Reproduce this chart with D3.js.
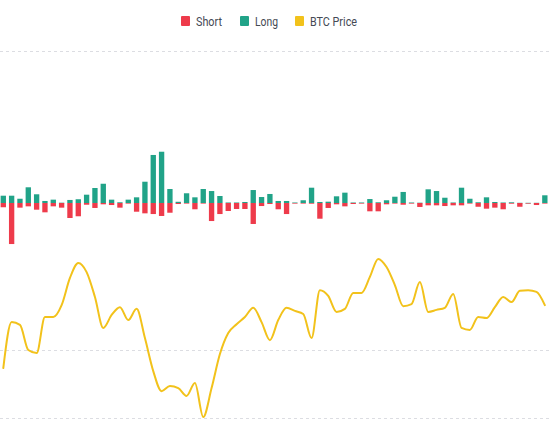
<!DOCTYPE html>
<html>
<head>
<meta charset="utf-8">
<script src="https://cdn.jsdelivr.net/npm/d3@7"></script>
<style>
  html, body { margin: 0; padding: 0; background: #ffffff; }
  svg { display: block; }
</style>
</head>
<body>
<svg id="chart" width="551" height="431"></svg>
<script>
// ---------- DATA ----------
const seriesNames = ["Short", "Long", "BTC Price"];

const categories = d3.range(66).map(i => "H" + i);

// Long liquidations (USD millions), drawn upward
const longValues = [
  0.72, 0.72, 0.42, 1.55, 0.86, 0.20, 0.33, 0.03, 0.30, 0.37,
  0.82, 1.48, 1.90, 0.33, 0.07, 0.33, 0.56, 2.10, 4.74, 5.06,
  1.38, 0.12, 0.96, 0.56, 1.38, 1.18, 0.69, 0.05, 0.05, 0.10,
  1.28, 0.59, 0.89, 0.20, 0.20, 0.05, 0.27, 1.51, 0.10, 0.13,
  0.66, 1.02, 0.05, 0.05, 0.39, 0.07, 0.27, 0.62, 1.09, 0.05,
  0.03, 1.35, 1.18, 0.52, 0.05, 1.51, 0.42, 0.07, 0.56, 0.10,
  0.05, 0.07, 0.02, 0.02, 0.02, 0.76
];

// Short liquidations (USD millions), drawn downward
const shortValues = [
  0.42, 4.05, 0.46, 0.33, 0.66, 0.92, 0.33, 0.46, 1.48, 1.31,
  0.17, 0.49, 0.13, 0.20, 0.46, 0.03, 0.86, 1.02, 1.09, 1.28,
  0.96, 0.10, 0.05, 0.62, 0.05, 1.78, 1.09, 0.79, 0.59, 0.59,
  2.07, 0.30, 0.10, 0.62, 1.09, 0.05, 0.05, 0.07, 1.55, 0.49,
  0.13, 0.33, 0.10, 0.05, 0.82, 0.82, 0.13, 0.05, 0.17, 0.05,
  0.39, 0.23, 0.23, 0.30, 0.23, 0.23, 0.02, 0.37, 0.56, 0.46,
  0.62, 0.07, 0.37, 0.03, 0.20, 0.05
];

// BTC price (USD), one per category
const priceValues = [
  59470, 60820, 60740, 60000, 59910, 60970, 60970, 61320, 62120, 62560,
  62290, 61560, 60650, 61030, 61260, 60880, 61210, 60350, 59380, 58790,
  58940, 58880, 58650, 59030, 58030, 58880, 59880, 60500, 60760, 60970,
  61240, 60820, 60290, 60880, 61240, 61150, 61060, 60350, 61760, 61590,
  61120, 61210, 61680, 61680, 62150, 62680, 62440, 61910, 61290, 61350,
  62000, 61120, 61180, 61240, 61650, 60650, 60590, 60970, 60940, 61260,
  61560, 61410, 61740, 61760, 61710, 61320
];

const barGridTicks = [15];
const priceGridTicks = [58000, 60000];

// ---------- STYLE ----------
const colors = { "Short": "#ee3b4b", "Long": "#21a388", "BTC Price": "#f2c21b" };
const W = 551, H = 431;

const svg = d3.select("#chart");

// ---------- SCALES ----------
const x = d3.scaleBand()
  .domain(categories)
  .range([-0.87, 549])
  .paddingInner(0.36)
  .paddingOuter(0.18);

const yBar = d3.scaleLinear().domain([-15, 15]).range([355, 51]);
const yPrice = d3.scaleLinear().domain([58000, 60000]).range([418, 350]);

// ---------- GRID ----------
const grid = svg.append("g").attr("class", "grid");
grid.selectAll("line.bg")
  .data(barGridTicks)
  .join("line")
  .attr("class", "bg")
  .attr("x1", 0).attr("x2", W)
  .attr("y1", d => Math.round(yBar(d)) + 0.5)
  .attr("y2", d => Math.round(yBar(d)) + 0.5)
  .attr("stroke", "#dcdde2")
  .attr("stroke-width", 1)
  .attr("stroke-dasharray", "3,3");

grid.selectAll("line.pg")
  .data(priceGridTicks)
  .join("line")
  .attr("class", "pg")
  .attr("x1", 0).attr("x2", W)
  .attr("y1", d => Math.round(yPrice(d)) + 0.5)
  .attr("y2", d => Math.round(yPrice(d)) + 0.5)
  .attr("stroke", "#dcdde2")
  .attr("stroke-width", 1)
  .attr("stroke-dasharray", "3,3");

// ---------- BARS ----------
const bars = svg.append("g").attr("class", "bars");
bars.selectAll("rect.long")
  .data(categories)
  .join("rect")
  .attr("class", "long")
  .attr("x", d => x(d))
  .attr("width", x.bandwidth())
  .attr("y", (d, i) => yBar(longValues[i]))
  .attr("height", (d, i) => Math.max(0.6, yBar(0) - yBar(longValues[i])))
  .attr("fill", colors["Long"]);

bars.selectAll("rect.short")
  .data(categories)
  .join("rect")
  .attr("class", "short")
  .attr("x", d => x(d))
  .attr("width", x.bandwidth())
  .attr("y", yBar(0))
  .attr("height", (d, i) => Math.max(0.6, yBar(-shortValues[i]) - yBar(0)))
  .attr("fill", colors["Short"]);

// ---------- PRICE LINE ----------
const line = d3.line()
  .x((d, i) => x(categories[i]) + x.bandwidth() / 2)
  .y(d => yPrice(d))
  .curve(d3.curveMonotoneX);

svg.append("path")
  .datum(priceValues)
  .attr("d", line)
  .attr("fill", "none")
  .attr("stroke", colors["BTC Price"])
  .attr("stroke-width", 2)
  .attr("stroke-linejoin", "round")
  .attr("stroke-linecap", "round");

// ---------- LEGEND ----------
const legendX = [181, 240, 295];
const legendTextLen = [26, 23, 47];
const legend = svg.append("g").attr("class", "legend");
seriesNames.forEach((name, i) => {
  const g = legend.append("g");
  g.append("rect")
    .attr("x", legendX[i]).attr("y", 16)
    .attr("width", 9).attr("height", 10)
    .attr("rx", 1)
    .attr("fill", colors[name]);
  g.append("text")
    .attr("x", legendX[i] + 15)
    .attr("y", 26)
    .attr("font-family", "Roboto, 'Noto Sans', sans-serif")
    .attr("font-size", 13.5)
    .attr("fill", "#454a55")
    .attr("textLength", legendTextLen[i])
    .attr("lengthAdjust", "spacingAndGlyphs")
    .text(name);
});
</script>
</body>
</html>
